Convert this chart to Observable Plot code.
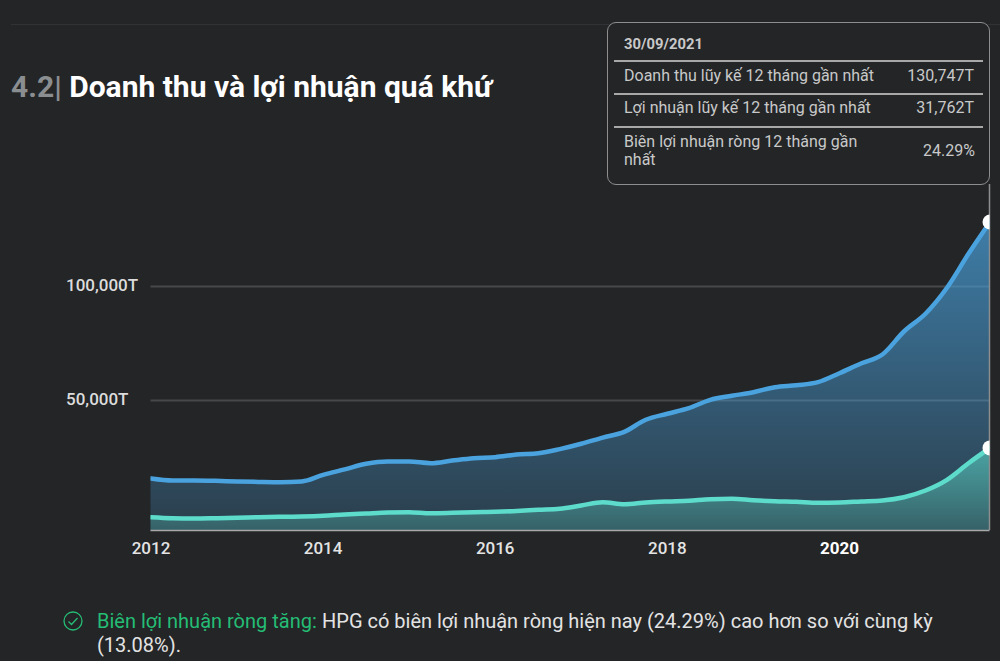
<!DOCTYPE html>
<html lang="vi">
<head>
<meta charset="utf-8">
<script src="https://cdn.jsdelivr.net/npm/d3@7"></script>
<script src="https://cdn.jsdelivr.net/npm/@observablehq/plot@0.6"></script>
<style>
  html,body{margin:0;padding:0;background:#232527;width:1000px;height:661px;overflow:hidden;font-family:Roboto,sans-serif}
  #chart{position:absolute;left:0;top:0}
  .rule{position:absolute;left:11px;top:24px;width:989px;height:1px;background:#303235}
  h2{position:absolute;left:11px;top:69px;margin:0;font-size:30px;line-height:36px;font-weight:700;color:#fff;white-space:nowrap}
  h2 span{color:#8b8e90}
  #tip{position:absolute;left:607px;top:22px;width:381px;height:161px;border:1.5px solid #8e8e8e;border-radius:9px;background:#232527;color:#c9c9c9;font-size:16px;line-height:18px}
  #tip div{position:absolute;white-space:nowrap}
  #tip .hr{left:6px;width:369px;height:1.5px;background:#a8a8a8}
  #tip .val{right:15px;text-align:right}
  .note{position:absolute;font-size:20px;line-height:24px;color:#e3e3e3;white-space:nowrap}
  #note-lead{left:97px;top:609px;color:#25bd75}
  #note-rest{left:322px;top:609px}
  #note-end{left:97px;top:633px}
  #check{position:absolute;left:63px;top:611px}
</style>
</head>
<body>
<div class="rule"></div>
<h2 id="title"></h2>
<div id="chart"></div>
<div id="tip"></div>
<svg id="check" width="20" height="20" viewBox="0 0 20 20"><circle cx="10" cy="10" r="9" fill="none" stroke="#25bd75" stroke-width="1.3"/><path d="M5.5 10.5l3 3 6-6.5" fill="none" stroke="#25bd75" stroke-width="1.3"/></svg>
<div class="note" id="note-lead"></div>
<div class="note" id="note-rest"></div>
<div class="note" id="note-end"></div>
<script>
const quarters = [2012,2012.25,2012.5,2012.75,2013,2013.25,2013.5,2013.75,2014,2014.25,2014.5,2014.75,2015,2015.25,2015.5,2015.75,2016,2016.25,2016.5,2016.75,2017,2017.25,2017.5,2017.75,2018,2018.25,2018.5,2018.75,2019,2019.25,2019.5,2019.75,2020,2020.25,2020.5,2020.75,2021,2021.25,2021.5,2021.75];
const revenue = [20000,19230,19230,19100,18850,18700,18600,18850,21400,23500,25650,26550,26550,25900,26900,27800,28200,29200,29700,31300,33350,35750,37950,42600,44900,47050,50300,52060,53640,55830,56700,58030,61970,66230,70180,80260,88030,99430,115600,130747];
const profit = [5120,4730,4620,4730,4880,5120,5270,5380,5650,6150,6540,6920,7040,6650,6810,7040,7190,7500,7960,8350,9620,10880,10120,10770,11150,11420,12040,12190,11650,11270,11040,10650,10770,11150,11540,12810,15380,19500,25880,31762];
const xTicks = [2012,2014,2016,2018];
const xTicksActive = [2020];
const yTicks = [50000,100000];
const tipDate = "30/09/2021";
const tipRows = ["Doanh thu lũy kế 12 tháng gần nhất","Lợi nhuận lũy kế 12 tháng gần nhất"];
const tipVals = ["130,747T","31,762T","24.29%"];

document.getElementById("title").innerHTML = "<span>4.2|</span> Doanh thu và lợi nhuận quá khứ";
document.getElementById("note-lead").textContent = "Biên lợi nhuận ròng tăng:";
document.getElementById("note-rest").textContent = "HPG có biên lợi nhuận ròng hiện nay (24.29%) cao hơn so với cùng kỳ";
document.getElementById("note-end").textContent = "(13.08%).";
const tip = document.getElementById("tip");
tip.innerHTML =
  `<div style="left:16px;top:12px;font-size:14.8px;font-weight:700">${tipDate}</div>`+
  `<div class="hr" style="top:37px"></div>`+
  `<div style="left:16px;top:44px">${tipRows[0]}</div><div class="val" style="top:44px">${tipVals[0]}</div>`+
  `<div class="hr" style="top:70px"></div>`+
  `<div style="left:16px;top:76px">${tipRows[1]}</div><div class="val" style="top:76px">${tipVals[1]}</div>`+
  `<div class="hr" style="top:103px"></div>`+
  `<div style="left:16px;top:110px;white-space:normal;width:250px">Biên lợi nhuận ròng 12 tháng gần nhất</div><div class="val" style="top:119px;right:14px">${tipVals[2]}</div>`;

const rows = quarters.map((q,i)=>({q,rev:revenue[i],pro:profit[i]}));
const last = rows[rows.length-1];
const defs = () => {
  const d = document.createElementNS("http://www.w3.org/2000/svg","defs");
  d.innerHTML = `<linearGradient id="gb" x1="0" y1="0" x2="0" y2="1"><stop offset="0" stop-color="#4aa3df" stop-opacity=".7"/><stop offset="1" stop-color="#4aa3df" stop-opacity=".2"/></linearGradient>
  <linearGradient id="gt" x1="0" y1="0" x2="0" y2="1"><stop offset="0" stop-color="#5ddccb" stop-opacity=".6"/><stop offset="1" stop-color="#5ddccb" stop-opacity=".22"/></linearGradient>`;
  return d;
};
const chart = Plot.plot({
  width:1000,height:661,
  marginLeft:150.5,marginRight:10.5,marginTop:184,marginBottom:131,
  style:{background:"transparent",fontFamily:"Roboto, sans-serif"},
  x:{type:"linear",domain:[2012,2021.75],label:null},
  y:{type:"linear",domain:[0,50000,100000,130747,148600],range:[530,400,286,221.5,184],label:null},
  marks:[
    defs,
    Plot.gridY(yTicks,{stroke:"#46484b",strokeOpacity:1,strokeWidth:2}),
    Plot.areaY(rows,{x:"q",y1:0,y2:"rev",fill:"url(#gb)",curve:"monotone-x"}),
    Plot.areaY(rows,{x:"q",y1:0,y2:"pro",fill:"url(#gt)",curve:"monotone-x"}),
    Plot.ruleX([2021.75],{y1:0,y2:148600,stroke:"#8e8e8e",strokeWidth:1.5,dx:-0.5}),
    Plot.ruleY([0],{stroke:"#a9a9a9",strokeWidth:1.5}),
    Plot.lineY(rows,{x:"q",y:"rev",stroke:"#4aa3df",strokeWidth:4.5,curve:"monotone-x",clip:"frame"}),
    Plot.lineY(rows,{x:"q",y:"pro",stroke:"#5ddccb",strokeWidth:4.5,curve:"monotone-x",clip:"frame"}),
    Plot.dot([last],{x:"q",y:"rev",r:7.5,fill:"#fff",stroke:null,clip:"frame"}),
    Plot.dot([last],{x:"q",y:"pro",r:7.5,fill:"#fff",stroke:null,clip:"frame"}),
    Plot.axisY({ticks:yTicks,tickSize:0,tickPadding:85,textAnchor:"start",tickFormat:d=>d3.format(",")(d)+"T",label:null,fontSize:17,fontWeight:500,fill:"#dcdcdc",dy:-1}),
    Plot.axisX({ticks:xTicks,tickSize:0,tickPadding:11,tickFormat:d=>String(d),label:null,fontSize:17,fontWeight:500,fill:"#e4e4e4"}),
    Plot.axisX({ticks:xTicksActive,tickSize:0,tickPadding:11,tickFormat:d=>String(d),label:null,fontSize:17,fontWeight:700,fill:"#fff"})
  ]
});
document.getElementById("chart").appendChild(chart);
</script>
</body>
</html>
